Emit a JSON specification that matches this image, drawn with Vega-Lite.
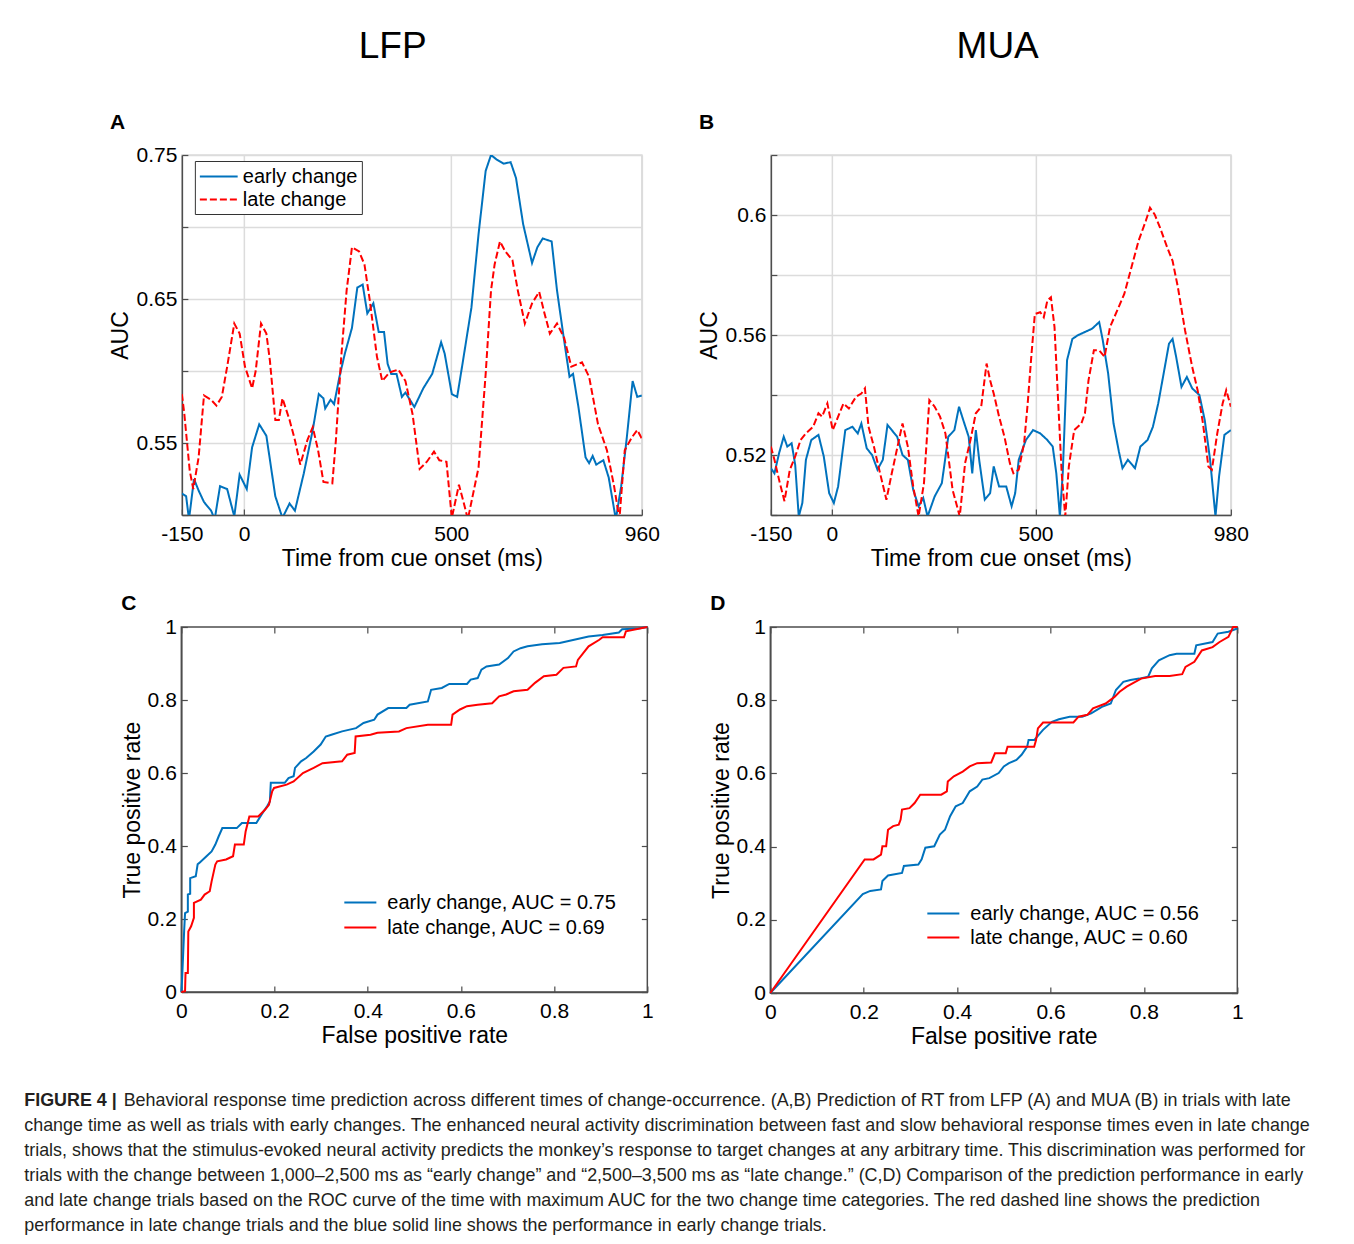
{
 "$schema": "https://vega.github.io/schema/vega-lite/v6.json",
 "background": "white",
 "padding": {"left": 24, "top": 28, "right": 8, "bottom": 4},
 "config": {
  "font": "Liberation Sans",
  "view": {"stroke": null},
  "axis": {"labelFont": "Liberation Sans", "titleFont": "Liberation Sans", "labelFontSize": 21, "titleFontSize": 23, "titleFontWeight": "normal", "labelColor": "#000", "titleColor": "#000", "domainColor": "#4d4d4d", "domainWidth": 1.5, "tickColor": "#4d4d4d", "tickWidth": 1.2, "tickSize": -6, "gridColor": "#dcdcdc", "gridWidth": 1.5, "labelPadding": 14, "titlePadding": 3, "labelFlush": false, "labelOverlap": false},
  "legend": {"labelFont": "Liberation Sans", "labelFontSize": 20, "labelColor": "#000", "symbolStrokeWidth": 2, "labelLimit": 500},
  "title": {"font": "Liberation Sans", "color": "#000"}
 },
 "datasets": {
  "lfp": [
   {"t":-150,"auc":0.515,"s":"early change"},{"t":-139.7,"auc":0.513,"s":"early change"},{"t":-132.8,"auc":0.497,"s":"early change"},{"t":-120.7,"auc":0.525,"s":"early change"},{"t":-109.6,"auc":0.517,"s":"early change"},{"t":-96.6,"auc":0.509,"s":"early change"},{"t":-79.4,"auc":0.503,"s":"early change"},{"t":-70.8,"auc":0.497,"s":"early change"},{"t":-57.9,"auc":0.52,"s":"early change"},{"t":-40.7,"auc":0.518,"s":"early change"},{"t":-23.5,"auc":0.499,"s":"early change"},{"t":-10.6,"auc":0.528,"s":"early change"},{"t":6.6,"auc":0.518,"s":"early change"},{"t":19.5,"auc":0.547,"s":"early change"},{"t":36.7,"auc":0.563,"s":"early change"},{"t":53.9,"auc":0.555,"s":"early change"},{"t":75.5,"auc":0.513,"s":"early change"},{"t":92.7,"auc":0.498,"s":"early change"},{"t":109.9,"auc":0.508,"s":"early change"},{"t":122.8,"auc":0.503,"s":"early change"},{"t":144.3,"auc":0.529,"s":"early change"},{"t":165.8,"auc":0.559,"s":"early change"},{"t":180.4,"auc":0.584,"s":"early change"},{"t":191.6,"auc":0.581,"s":"early change"},{"t":195.9,"auc":0.574,"s":"early change"},{"t":208.8,"auc":0.58,"s":"early change"},{"t":217.4,"auc":0.577,"s":"early change"},{"t":230.3,"auc":0.596,"s":"early change"},{"t":243.2,"auc":0.612,"s":"early change"},{"t":260.5,"auc":0.63,"s":"early change"},{"t":273.4,"auc":0.658,"s":"early change"},{"t":286.3,"auc":0.66,"s":"early change"},{"t":297.5,"auc":0.64,"s":"early change"},{"t":312.1,"auc":0.647,"s":"early change"},{"t":325,"auc":0.627,"s":"early change"},{"t":337.9,"auc":0.627,"s":"early change"},{"t":346.5,"auc":0.605,"s":"early change"},{"t":355.1,"auc":0.598,"s":"early change"},{"t":368,"auc":0.598,"s":"early change"},{"t":380.9,"auc":0.582,"s":"early change"},{"t":389.5,"auc":0.585,"s":"early change"},{"t":411,"auc":0.575,"s":"early change"},{"t":432.6,"auc":0.588,"s":"early change"},{"t":454.1,"auc":0.598,"s":"early change"},{"t":475.6,"auc":0.62,"s":"early change"},{"t":484.2,"auc":0.612,"s":"early change"},{"t":501.4,"auc":0.584,"s":"early change"},{"t":514.3,"auc":0.582,"s":"early change"},{"t":527.2,"auc":0.605,"s":"early change"},{"t":548.7,"auc":0.644,"s":"early change"},{"t":565.9,"auc":0.695,"s":"early change"},{"t":583.1,"auc":0.739,"s":"early change"},{"t":596,"auc":0.75,"s":"early change"},{"t":609,"auc":0.747,"s":"early change"},{"t":626.2,"auc":0.744,"s":"early change"},{"t":643.4,"auc":0.745,"s":"early change"},{"t":656.3,"auc":0.734,"s":"early change"},{"t":673.5,"auc":0.702,"s":"early change"},{"t":695,"auc":0.675,"s":"early change"},{"t":707.9,"auc":0.686,"s":"early change"},{"t":720.8,"auc":0.692,"s":"early change"},{"t":742.3,"auc":0.69,"s":"early change"},{"t":755.2,"auc":0.656,"s":"early change"},{"t":772.5,"auc":0.621,"s":"early change"},{"t":785.4,"auc":0.596,"s":"early change"},{"t":794,"auc":0.598,"s":"early change"},{"t":806.9,"auc":0.575,"s":"early change"},{"t":824.1,"auc":0.54,"s":"early change"},{"t":832.7,"auc":0.536,"s":"early change"},{"t":841.3,"auc":0.541,"s":"early change"},{"t":849.9,"auc":0.535,"s":"early change"},{"t":867.1,"auc":0.538,"s":"early change"},{"t":880,"auc":0.526,"s":"early change"},{"t":897.2,"auc":0.497,"s":"early change"},{"t":910.1,"auc":0.52,"s":"early change"},{"t":923,"auc":0.552,"s":"early change"},{"t":937.7,"auc":0.593,"s":"early change"},{"t":948.9,"auc":0.582,"s":"early change"},{"t":960,"auc":0.583,"s":"early change"},
   {"t":-150,"auc":0.584,"s":"late change"},{"t":-144,"auc":0.57,"s":"late change"},{"t":-131.1,"auc":0.531,"s":"late change"},{"t":-122.5,"auc":0.518,"s":"late change"},{"t":-109.6,"auc":0.54,"s":"late change"},{"t":-96.6,"auc":0.583,"s":"late change"},{"t":-79.4,"auc":0.58,"s":"late change"},{"t":-66.5,"auc":0.576,"s":"late change"},{"t":-53.6,"auc":0.582,"s":"late change"},{"t":-40.7,"auc":0.603,"s":"late change"},{"t":-23.5,"auc":0.633,"s":"late change"},{"t":-10.6,"auc":0.626,"s":"late change"},{"t":2.3,"auc":0.603,"s":"late change"},{"t":19.5,"auc":0.588,"s":"late change"},{"t":28.1,"auc":0.6,"s":"late change"},{"t":41,"auc":0.633,"s":"late change"},{"t":53.9,"auc":0.626,"s":"late change"},{"t":62.5,"auc":0.607,"s":"late change"},{"t":75.5,"auc":0.566,"s":"late change"},{"t":84.1,"auc":0.566,"s":"late change"},{"t":92.7,"auc":0.581,"s":"late change"},{"t":109.9,"auc":0.566,"s":"late change"},{"t":122.8,"auc":0.552,"s":"late change"},{"t":135.7,"auc":0.535,"s":"late change"},{"t":152.9,"auc":0.552,"s":"late change"},{"t":165.8,"auc":0.561,"s":"late change"},{"t":178.7,"auc":0.545,"s":"late change"},{"t":191.6,"auc":0.523,"s":"late change"},{"t":213.1,"auc":0.522,"s":"late change"},{"t":221.7,"auc":0.552,"s":"late change"},{"t":234.6,"auc":0.61,"s":"late change"},{"t":247.6,"auc":0.656,"s":"late change"},{"t":260.5,"auc":0.686,"s":"late change"},{"t":277.7,"auc":0.683,"s":"late change"},{"t":290.6,"auc":0.674,"s":"late change"},{"t":303.5,"auc":0.649,"s":"late change"},{"t":320.7,"auc":0.61,"s":"late change"},{"t":333.6,"auc":0.593,"s":"late change"},{"t":350.8,"auc":0.599,"s":"late change"},{"t":372.3,"auc":0.601,"s":"late change"},{"t":389.5,"auc":0.593,"s":"late change"},{"t":406.7,"auc":0.57,"s":"late change"},{"t":423.9,"auc":0.532,"s":"late change"},{"t":441.2,"auc":0.537,"s":"late change"},{"t":458.4,"auc":0.544,"s":"late change"},{"t":471.3,"auc":0.538,"s":"late change"},{"t":488.5,"auc":0.537,"s":"late change"},{"t":501.4,"auc":0.498,"s":"late change"},{"t":518.6,"auc":0.521,"s":"late change"},{"t":531.5,"auc":0.507,"s":"late change"},{"t":540.1,"auc":0.497,"s":"late change"},{"t":553,"auc":0.515,"s":"late change"},{"t":565.9,"auc":0.533,"s":"late change"},{"t":583.1,"auc":0.598,"s":"late change"},{"t":596,"auc":0.656,"s":"late change"},{"t":604.7,"auc":0.674,"s":"late change"},{"t":617.6,"auc":0.69,"s":"late change"},{"t":630.5,"auc":0.683,"s":"late change"},{"t":647.7,"auc":0.677,"s":"late change"},{"t":660.6,"auc":0.656,"s":"late change"},{"t":677.6,"auc":0.633,"s":"late change"},{"t":695,"auc":0.647,"s":"late change"},{"t":712.2,"auc":0.655,"s":"late change"},{"t":725.1,"auc":0.64,"s":"late change"},{"t":738,"auc":0.626,"s":"late change"},{"t":755.2,"auc":0.633,"s":"late change"},{"t":772.5,"auc":0.623,"s":"late change"},{"t":789.7,"auc":0.603,"s":"late change"},{"t":815.5,"auc":0.606,"s":"late change"},{"t":832.7,"auc":0.596,"s":"late change"},{"t":854.2,"auc":0.563,"s":"late change"},{"t":875.7,"auc":0.545,"s":"late change"},{"t":893,"auc":0.52,"s":"late change"},{"t":905.8,"auc":0.497,"s":"late change"},{"t":918.7,"auc":0.545,"s":"late change"},{"t":936,"auc":0.554,"s":"late change"},{"t":948.9,"auc":0.559,"s":"late change"},{"t":960,"auc":0.553,"s":"late change"}
  ],
  "mua": [
   {"t":-150,"auc":0.5156,"s":"early change"},{"t":-141.2,"auc":0.5139,"s":"early change"},{"t":-129.8,"auc":0.5206,"s":"early change"},{"t":-118.4,"auc":0.5261,"s":"early change"},{"t":-109.6,"auc":0.5228,"s":"early change"},{"t":-99,"auc":0.5239,"s":"early change"},{"t":-90.2,"auc":0.5167,"s":"early change"},{"t":-81.5,"auc":0.4995,"s":"early change"},{"t":-72.7,"auc":0.504,"s":"early change"},{"t":-63.9,"auc":0.5184,"s":"early change"},{"t":-50.7,"auc":0.525,"s":"early change"},{"t":-33.1,"auc":0.5267,"s":"early change"},{"t":-20,"auc":0.5195,"s":"early change"},{"t":-6.8,"auc":0.5073,"s":"early change"},{"t":4.7,"auc":0.504,"s":"early change"},{"t":15.2,"auc":0.5095,"s":"early change"},{"t":32.8,"auc":0.5283,"s":"early change"},{"t":50.3,"auc":0.5294,"s":"early change"},{"t":63.5,"auc":0.5272,"s":"early change"},{"t":72.3,"auc":0.5305,"s":"early change"},{"t":85.5,"auc":0.5222,"s":"early change"},{"t":98.7,"auc":0.52,"s":"early change"},{"t":111.9,"auc":0.5151,"s":"early change"},{"t":125,"auc":0.5184,"s":"early change"},{"t":136.5,"auc":0.53,"s":"early change"},{"t":147,"auc":0.5283,"s":"early change"},{"t":160.2,"auc":0.5261,"s":"early change"},{"t":173.4,"auc":0.52,"s":"early change"},{"t":186.5,"auc":0.5184,"s":"early change"},{"t":199.7,"auc":0.5084,"s":"early change"},{"t":212.9,"auc":0.5029,"s":"early change"},{"t":224.3,"auc":0.5057,"s":"early change"},{"t":234.9,"auc":0.4995,"s":"early change"},{"t":252.4,"auc":0.5062,"s":"early change"},{"t":270,"auc":0.5106,"s":"early change"},{"t":285.8,"auc":0.5261,"s":"early change"},{"t":300.8,"auc":0.5283,"s":"early change"},{"t":312.2,"auc":0.5361,"s":"early change"},{"t":322.7,"auc":0.5316,"s":"early change"},{"t":335.9,"auc":0.5261,"s":"early change"},{"t":344.7,"auc":0.5139,"s":"early change"},{"t":353.5,"auc":0.5283,"s":"early change"},{"t":362.3,"auc":0.5178,"s":"early change"},{"t":375.5,"auc":0.5051,"s":"early change"},{"t":388.6,"auc":0.5073,"s":"early change"},{"t":397.4,"auc":0.5162,"s":"early change"},{"t":410.6,"auc":0.5095,"s":"early change"},{"t":428.2,"auc":0.5095,"s":"early change"},{"t":441.4,"auc":0.5029,"s":"early change"},{"t":450.2,"auc":0.5073,"s":"early change"},{"t":458.9,"auc":0.5184,"s":"early change"},{"t":476.5,"auc":0.525,"s":"early change"},{"t":494.1,"auc":0.5283,"s":"early change"},{"t":511.7,"auc":0.5272,"s":"early change"},{"t":529.2,"auc":0.525,"s":"early change"},{"t":542.4,"auc":0.5228,"s":"early change"},{"t":551.2,"auc":0.5139,"s":"early change"},{"t":560,"auc":0.4995,"s":"early change"},{"t":567,"auc":0.5139,"s":"early change"},{"t":577.6,"auc":0.5516,"s":"early change"},{"t":590.7,"auc":0.5587,"s":"early change"},{"t":603.9,"auc":0.5599,"s":"early change"},{"t":621.5,"auc":0.561,"s":"early change"},{"t":639.1,"auc":0.5621,"s":"early change"},{"t":656.6,"auc":0.5643,"s":"early change"},{"t":665.4,"auc":0.5582,"s":"early change"},{"t":678.6,"auc":0.5471,"s":"early change"},{"t":691.8,"auc":0.5305,"s":"early change"},{"t":705,"auc":0.5211,"s":"early change"},{"t":713.8,"auc":0.5156,"s":"early change"},{"t":727,"auc":0.5184,"s":"early change"},{"t":744.5,"auc":0.5156,"s":"early change"},{"t":757.7,"auc":0.5228,"s":"early change"},{"t":775.3,"auc":0.525,"s":"early change"},{"t":788.5,"auc":0.5294,"s":"early change"},{"t":801.6,"auc":0.5372,"s":"early change"},{"t":814.8,"auc":0.5471,"s":"early change"},{"t":828,"auc":0.5571,"s":"early change"},{"t":836.8,"auc":0.5587,"s":"early change"},{"t":845.6,"auc":0.5527,"s":"early change"},{"t":858.7,"auc":0.5427,"s":"early change"},{"t":871.9,"auc":0.546,"s":"early change"},{"t":885.1,"auc":0.5422,"s":"early change"},{"t":902.7,"auc":0.54,"s":"early change"},{"t":915.9,"auc":0.5316,"s":"early change"},{"t":929,"auc":0.5184,"s":"early change"},{"t":942.2,"auc":0.4995,"s":"early change"},{"t":951,"auc":0.5128,"s":"early change"},{"t":964.2,"auc":0.5267,"s":"early change"},{"t":980,"auc":0.5283,"s":"early change"},
   {"t":-150,"auc":0.5228,"s":"late change"},{"t":-141.2,"auc":0.5184,"s":"late change"},{"t":-129.8,"auc":0.5117,"s":"late change"},{"t":-116.6,"auc":0.5046,"s":"late change"},{"t":-103.4,"auc":0.5151,"s":"late change"},{"t":-90.2,"auc":0.5195,"s":"late change"},{"t":-77.1,"auc":0.525,"s":"late change"},{"t":-63.9,"auc":0.5272,"s":"late change"},{"t":-46.3,"auc":0.5294,"s":"late change"},{"t":-33.1,"auc":0.5339,"s":"late change"},{"t":-24.3,"auc":0.5328,"s":"late change"},{"t":-11.2,"auc":0.5372,"s":"late change"},{"t":2,"auc":0.5283,"s":"late change"},{"t":15.2,"auc":0.5328,"s":"late change"},{"t":28.4,"auc":0.5372,"s":"late change"},{"t":41.6,"auc":0.5355,"s":"late change"},{"t":59.1,"auc":0.5394,"s":"late change"},{"t":72.3,"auc":0.5405,"s":"late change"},{"t":81.1,"auc":0.5422,"s":"late change"},{"t":89.9,"auc":0.5294,"s":"late change"},{"t":103.1,"auc":0.5228,"s":"late change"},{"t":116.2,"auc":0.5151,"s":"late change"},{"t":133.8,"auc":0.5051,"s":"late change"},{"t":147,"auc":0.5139,"s":"late change"},{"t":160.2,"auc":0.5222,"s":"late change"},{"t":173.4,"auc":0.5305,"s":"late change"},{"t":186.5,"auc":0.5228,"s":"late change"},{"t":199.7,"auc":0.5095,"s":"late change"},{"t":212.9,"auc":0.4995,"s":"late change"},{"t":226.1,"auc":0.5106,"s":"late change"},{"t":239.3,"auc":0.5383,"s":"late change"},{"t":252.4,"auc":0.5361,"s":"late change"},{"t":265.6,"auc":0.5328,"s":"late change"},{"t":278.8,"auc":0.5272,"s":"late change"},{"t":296.4,"auc":0.5084,"s":"late change"},{"t":314,"auc":0.4995,"s":"late change"},{"t":327.1,"auc":0.5173,"s":"late change"},{"t":340.3,"auc":0.525,"s":"late change"},{"t":353.5,"auc":0.5339,"s":"late change"},{"t":366.7,"auc":0.5361,"s":"late change"},{"t":379.9,"auc":0.5505,"s":"late change"},{"t":388.6,"auc":0.5449,"s":"late change"},{"t":397.4,"auc":0.5405,"s":"late change"},{"t":410.6,"auc":0.5328,"s":"late change"},{"t":423.8,"auc":0.5261,"s":"late change"},{"t":437,"auc":0.5173,"s":"late change"},{"t":445.8,"auc":0.5139,"s":"late change"},{"t":458.9,"auc":0.5151,"s":"late change"},{"t":472.1,"auc":0.5239,"s":"late change"},{"t":480.9,"auc":0.5372,"s":"late change"},{"t":489.7,"auc":0.5527,"s":"late change"},{"t":498.5,"auc":0.567,"s":"late change"},{"t":511.7,"auc":0.5676,"s":"late change"},{"t":520.4,"auc":0.5659,"s":"late change"},{"t":529.2,"auc":0.5715,"s":"late change"},{"t":538,"auc":0.5726,"s":"late change"},{"t":546.8,"auc":0.5626,"s":"late change"},{"t":555.6,"auc":0.5383,"s":"late change"},{"t":564.4,"auc":0.5139,"s":"late change"},{"t":573.2,"auc":0.4995,"s":"late change"},{"t":582,"auc":0.5162,"s":"late change"},{"t":595.1,"auc":0.5283,"s":"late change"},{"t":612.7,"auc":0.5305,"s":"late change"},{"t":621.5,"auc":0.5339,"s":"late change"},{"t":630.3,"auc":0.5449,"s":"late change"},{"t":643.5,"auc":0.5549,"s":"late change"},{"t":656.6,"auc":0.5549,"s":"late change"},{"t":669.8,"auc":0.5527,"s":"late change"},{"t":683,"auc":0.5626,"s":"late change"},{"t":700.6,"auc":0.5681,"s":"late change"},{"t":718.2,"auc":0.5737,"s":"late change"},{"t":735.7,"auc":0.5825,"s":"late change"},{"t":753.3,"auc":0.5914,"s":"late change"},{"t":770.9,"auc":0.598,"s":"late change"},{"t":781.4,"auc":0.6024,"s":"late change"},{"t":792.8,"auc":0.6002,"s":"late change"},{"t":806,"auc":0.5958,"s":"late change"},{"t":823.6,"auc":0.5892,"s":"late change"},{"t":836.8,"auc":0.5847,"s":"late change"},{"t":849.9,"auc":0.5759,"s":"late change"},{"t":867.5,"auc":0.5615,"s":"late change"},{"t":885.1,"auc":0.5493,"s":"late change"},{"t":898.3,"auc":0.5416,"s":"late change"},{"t":911.5,"auc":0.5305,"s":"late change"},{"t":924.7,"auc":0.5162,"s":"late change"},{"t":933.4,"auc":0.5151,"s":"late change"},{"t":946.6,"auc":0.5272,"s":"late change"},{"t":959.8,"auc":0.5372,"s":"late change"},{"t":968.6,"auc":0.5416,"s":"late change"},{"t":980,"auc":0.5361,"s":"late change"}
  ],
  "rocLfp": [
   {"i":0,"fpr":0,"tpr":0,"s":"early change, AUC = 0.75"},{"i":1,"fpr":0.0015,"tpr":0.03,"s":"early change, AUC = 0.75"},{"i":2,"fpr":0.006,"tpr":0.166,"s":"early change, AUC = 0.75"},{"i":3,"fpr":0.008,"tpr":0.216,"s":"early change, AUC = 0.75"},{"i":4,"fpr":0.014,"tpr":0.22,"s":"early change, AUC = 0.75"},{"i":5,"fpr":0.014,"tpr":0.267,"s":"early change, AUC = 0.75"},{"i":6,"fpr":0.019,"tpr":0.269,"s":"early change, AUC = 0.75"},{"i":7,"fpr":0.019,"tpr":0.312,"s":"early change, AUC = 0.75"},{"i":8,"fpr":0.031,"tpr":0.317,"s":"early change, AUC = 0.75"},{"i":9,"fpr":0.035,"tpr":0.35,"s":"early change, AUC = 0.75"},{"i":10,"fpr":0.038,"tpr":0.353,"s":"early change, AUC = 0.75"},{"i":11,"fpr":0.054,"tpr":0.372,"s":"early change, AUC = 0.75"},{"i":12,"fpr":0.065,"tpr":0.385,"s":"early change, AUC = 0.75"},{"i":13,"fpr":0.073,"tpr":0.404,"s":"early change, AUC = 0.75"},{"i":14,"fpr":0.08,"tpr":0.426,"s":"early change, AUC = 0.75"},{"i":15,"fpr":0.088,"tpr":0.449,"s":"early change, AUC = 0.75"},{"i":16,"fpr":0.119,"tpr":0.449,"s":"early change, AUC = 0.75"},{"i":17,"fpr":0.13,"tpr":0.463,"s":"early change, AUC = 0.75"},{"i":18,"fpr":0.161,"tpr":0.463,"s":"early change, AUC = 0.75"},{"i":19,"fpr":0.172,"tpr":0.486,"s":"early change, AUC = 0.75"},{"i":20,"fpr":0.184,"tpr":0.509,"s":"early change, AUC = 0.75"},{"i":21,"fpr":0.19,"tpr":0.522,"s":"early change, AUC = 0.75"},{"i":22,"fpr":0.192,"tpr":0.573,"s":"early change, AUC = 0.75"},{"i":23,"fpr":0.222,"tpr":0.573,"s":"early change, AUC = 0.75"},{"i":24,"fpr":0.23,"tpr":0.586,"s":"early change, AUC = 0.75"},{"i":25,"fpr":0.241,"tpr":0.591,"s":"early change, AUC = 0.75"},{"i":26,"fpr":0.244,"tpr":0.614,"s":"early change, AUC = 0.75"},{"i":27,"fpr":0.257,"tpr":0.632,"s":"early change, AUC = 0.75"},{"i":28,"fpr":0.268,"tpr":0.641,"s":"early change, AUC = 0.75"},{"i":29,"fpr":0.284,"tpr":0.659,"s":"early change, AUC = 0.75"},{"i":30,"fpr":0.299,"tpr":0.678,"s":"early change, AUC = 0.75"},{"i":31,"fpr":0.31,"tpr":0.7,"s":"early change, AUC = 0.75"},{"i":32,"fpr":0.322,"tpr":0.705,"s":"early change, AUC = 0.75"},{"i":33,"fpr":0.345,"tpr":0.714,"s":"early change, AUC = 0.75"},{"i":34,"fpr":0.375,"tpr":0.723,"s":"early change, AUC = 0.75"},{"i":35,"fpr":0.391,"tpr":0.737,"s":"early change, AUC = 0.75"},{"i":36,"fpr":0.414,"tpr":0.746,"s":"early change, AUC = 0.75"},{"i":37,"fpr":0.421,"tpr":0.76,"s":"early change, AUC = 0.75"},{"i":38,"fpr":0.444,"tpr":0.778,"s":"early change, AUC = 0.75"},{"i":39,"fpr":0.483,"tpr":0.778,"s":"early change, AUC = 0.75"},{"i":40,"fpr":0.49,"tpr":0.787,"s":"early change, AUC = 0.75"},{"i":41,"fpr":0.529,"tpr":0.796,"s":"early change, AUC = 0.75"},{"i":42,"fpr":0.536,"tpr":0.828,"s":"early change, AUC = 0.75"},{"i":43,"fpr":0.559,"tpr":0.833,"s":"early change, AUC = 0.75"},{"i":44,"fpr":0.575,"tpr":0.844,"s":"early change, AUC = 0.75"},{"i":45,"fpr":0.613,"tpr":0.844,"s":"early change, AUC = 0.75"},{"i":46,"fpr":0.621,"tpr":0.856,"s":"early change, AUC = 0.75"},{"i":47,"fpr":0.636,"tpr":0.86,"s":"early change, AUC = 0.75"},{"i":48,"fpr":0.644,"tpr":0.883,"s":"early change, AUC = 0.75"},{"i":49,"fpr":0.655,"tpr":0.892,"s":"early change, AUC = 0.75"},{"i":50,"fpr":0.682,"tpr":0.897,"s":"early change, AUC = 0.75"},{"i":51,"fpr":0.701,"tpr":0.915,"s":"early change, AUC = 0.75"},{"i":52,"fpr":0.713,"tpr":0.933,"s":"early change, AUC = 0.75"},{"i":53,"fpr":0.728,"tpr":0.942,"s":"early change, AUC = 0.75"},{"i":54,"fpr":0.743,"tpr":0.947,"s":"early change, AUC = 0.75"},{"i":55,"fpr":0.774,"tpr":0.953,"s":"early change, AUC = 0.75"},{"i":56,"fpr":0.812,"tpr":0.956,"s":"early change, AUC = 0.75"},{"i":57,"fpr":0.843,"tpr":0.965,"s":"early change, AUC = 0.75"},{"i":58,"fpr":0.874,"tpr":0.974,"s":"early change, AUC = 0.75"},{"i":59,"fpr":0.904,"tpr":0.978,"s":"early change, AUC = 0.75"},{"i":60,"fpr":0.939,"tpr":0.985,"s":"early change, AUC = 0.75"},{"i":61,"fpr":0.946,"tpr":0.994,"s":"early change, AUC = 0.75"},{"i":62,"fpr":0.981,"tpr":0.996,"s":"early change, AUC = 0.75"},{"i":63,"fpr":1,"tpr":1,"s":"early change, AUC = 0.75"},
   {"i":0,"fpr":0,"tpr":0,"s":"late change, AUC = 0.69"},{"i":1,"fpr":0.008,"tpr":0.002,"s":"late change, AUC = 0.69"},{"i":2,"fpr":0.009,"tpr":0.052,"s":"late change, AUC = 0.69"},{"i":3,"fpr":0.014,"tpr":0.052,"s":"late change, AUC = 0.69"},{"i":4,"fpr":0.015,"tpr":0.166,"s":"late change, AUC = 0.69"},{"i":5,"fpr":0.021,"tpr":0.18,"s":"late change, AUC = 0.69"},{"i":6,"fpr":0.027,"tpr":0.203,"s":"late change, AUC = 0.69"},{"i":7,"fpr":0.027,"tpr":0.244,"s":"late change, AUC = 0.69"},{"i":8,"fpr":0.042,"tpr":0.253,"s":"late change, AUC = 0.69"},{"i":9,"fpr":0.05,"tpr":0.267,"s":"late change, AUC = 0.69"},{"i":10,"fpr":0.061,"tpr":0.276,"s":"late change, AUC = 0.69"},{"i":11,"fpr":0.065,"tpr":0.303,"s":"late change, AUC = 0.69"},{"i":12,"fpr":0.073,"tpr":0.349,"s":"late change, AUC = 0.69"},{"i":13,"fpr":0.077,"tpr":0.358,"s":"late change, AUC = 0.69"},{"i":14,"fpr":0.096,"tpr":0.363,"s":"late change, AUC = 0.69"},{"i":15,"fpr":0.111,"tpr":0.372,"s":"late change, AUC = 0.69"},{"i":16,"fpr":0.115,"tpr":0.404,"s":"late change, AUC = 0.69"},{"i":17,"fpr":0.134,"tpr":0.404,"s":"late change, AUC = 0.69"},{"i":18,"fpr":0.138,"tpr":0.44,"s":"late change, AUC = 0.69"},{"i":19,"fpr":0.146,"tpr":0.481,"s":"late change, AUC = 0.69"},{"i":20,"fpr":0.165,"tpr":0.481,"s":"late change, AUC = 0.69"},{"i":21,"fpr":0.18,"tpr":0.5,"s":"late change, AUC = 0.69"},{"i":22,"fpr":0.188,"tpr":0.513,"s":"late change, AUC = 0.69"},{"i":23,"fpr":0.195,"tpr":0.55,"s":"late change, AUC = 0.69"},{"i":24,"fpr":0.199,"tpr":0.559,"s":"late change, AUC = 0.69"},{"i":25,"fpr":0.226,"tpr":0.568,"s":"late change, AUC = 0.69"},{"i":26,"fpr":0.241,"tpr":0.577,"s":"late change, AUC = 0.69"},{"i":27,"fpr":0.261,"tpr":0.6,"s":"late change, AUC = 0.69"},{"i":28,"fpr":0.284,"tpr":0.614,"s":"late change, AUC = 0.69"},{"i":29,"fpr":0.303,"tpr":0.627,"s":"late change, AUC = 0.69"},{"i":30,"fpr":0.345,"tpr":0.632,"s":"late change, AUC = 0.69"},{"i":31,"fpr":0.356,"tpr":0.65,"s":"late change, AUC = 0.69"},{"i":32,"fpr":0.372,"tpr":0.655,"s":"late change, AUC = 0.69"},{"i":33,"fpr":0.374,"tpr":0.7,"s":"late change, AUC = 0.69"},{"i":34,"fpr":0.406,"tpr":0.705,"s":"late change, AUC = 0.69"},{"i":35,"fpr":0.421,"tpr":0.71,"s":"late change, AUC = 0.69"},{"i":36,"fpr":0.467,"tpr":0.714,"s":"late change, AUC = 0.69"},{"i":37,"fpr":0.483,"tpr":0.723,"s":"late change, AUC = 0.69"},{"i":38,"fpr":0.529,"tpr":0.732,"s":"late change, AUC = 0.69"},{"i":39,"fpr":0.579,"tpr":0.732,"s":"late change, AUC = 0.69"},{"i":40,"fpr":0.582,"tpr":0.76,"s":"late change, AUC = 0.69"},{"i":41,"fpr":0.598,"tpr":0.774,"s":"late change, AUC = 0.69"},{"i":42,"fpr":0.613,"tpr":0.783,"s":"late change, AUC = 0.69"},{"i":43,"fpr":0.636,"tpr":0.787,"s":"late change, AUC = 0.69"},{"i":44,"fpr":0.667,"tpr":0.791,"s":"late change, AUC = 0.69"},{"i":45,"fpr":0.682,"tpr":0.81,"s":"late change, AUC = 0.69"},{"i":46,"fpr":0.697,"tpr":0.815,"s":"late change, AUC = 0.69"},{"i":47,"fpr":0.713,"tpr":0.824,"s":"late change, AUC = 0.69"},{"i":48,"fpr":0.743,"tpr":0.828,"s":"late change, AUC = 0.69"},{"i":49,"fpr":0.759,"tpr":0.847,"s":"late change, AUC = 0.69"},{"i":50,"fpr":0.778,"tpr":0.865,"s":"late change, AUC = 0.69"},{"i":51,"fpr":0.805,"tpr":0.869,"s":"late change, AUC = 0.69"},{"i":52,"fpr":0.82,"tpr":0.888,"s":"late change, AUC = 0.69"},{"i":53,"fpr":0.847,"tpr":0.892,"s":"late change, AUC = 0.69"},{"i":54,"fpr":0.851,"tpr":0.91,"s":"late change, AUC = 0.69"},{"i":55,"fpr":0.862,"tpr":0.928,"s":"late change, AUC = 0.69"},{"i":56,"fpr":0.874,"tpr":0.947,"s":"late change, AUC = 0.69"},{"i":57,"fpr":0.897,"tpr":0.965,"s":"late change, AUC = 0.69"},{"i":58,"fpr":0.904,"tpr":0.972,"s":"late change, AUC = 0.69"},{"i":59,"fpr":0.95,"tpr":0.972,"s":"late change, AUC = 0.69"},{"i":60,"fpr":0.954,"tpr":0.988,"s":"late change, AUC = 0.69"},{"i":61,"fpr":0.981,"tpr":0.995,"s":"late change, AUC = 0.69"},{"i":62,"fpr":1,"tpr":1,"s":"late change, AUC = 0.69"}
  ],
  "rocMua": [
   {"i":0,"fpr":0,"tpr":0,"s":"early change, AUC = 0.56"},{"i":1,"fpr":0.198,"tpr":0.27,"s":"early change, AUC = 0.56"},{"i":2,"fpr":0.214,"tpr":0.279,"s":"early change, AUC = 0.56"},{"i":3,"fpr":0.237,"tpr":0.283,"s":"early change, AUC = 0.56"},{"i":4,"fpr":0.24,"tpr":0.306,"s":"early change, AUC = 0.56"},{"i":5,"fpr":0.252,"tpr":0.321,"s":"early change, AUC = 0.56"},{"i":6,"fpr":0.282,"tpr":0.328,"s":"early change, AUC = 0.56"},{"i":7,"fpr":0.286,"tpr":0.347,"s":"early change, AUC = 0.56"},{"i":8,"fpr":0.317,"tpr":0.351,"s":"early change, AUC = 0.56"},{"i":9,"fpr":0.324,"tpr":0.365,"s":"early change, AUC = 0.56"},{"i":10,"fpr":0.332,"tpr":0.397,"s":"early change, AUC = 0.56"},{"i":11,"fpr":0.351,"tpr":0.401,"s":"early change, AUC = 0.56"},{"i":12,"fpr":0.363,"tpr":0.433,"s":"early change, AUC = 0.56"},{"i":13,"fpr":0.374,"tpr":0.446,"s":"early change, AUC = 0.56"},{"i":14,"fpr":0.385,"tpr":0.483,"s":"early change, AUC = 0.56"},{"i":15,"fpr":0.397,"tpr":0.51,"s":"early change, AUC = 0.56"},{"i":16,"fpr":0.412,"tpr":0.519,"s":"early change, AUC = 0.56"},{"i":17,"fpr":0.427,"tpr":0.551,"s":"early change, AUC = 0.56"},{"i":18,"fpr":0.443,"tpr":0.564,"s":"early change, AUC = 0.56"},{"i":19,"fpr":0.454,"tpr":0.583,"s":"early change, AUC = 0.56"},{"i":20,"fpr":0.469,"tpr":0.587,"s":"early change, AUC = 0.56"},{"i":21,"fpr":0.489,"tpr":0.601,"s":"early change, AUC = 0.56"},{"i":22,"fpr":0.5,"tpr":0.619,"s":"early change, AUC = 0.56"},{"i":23,"fpr":0.511,"tpr":0.628,"s":"early change, AUC = 0.56"},{"i":24,"fpr":0.527,"tpr":0.637,"s":"early change, AUC = 0.56"},{"i":25,"fpr":0.538,"tpr":0.651,"s":"early change, AUC = 0.56"},{"i":26,"fpr":0.55,"tpr":0.673,"s":"early change, AUC = 0.56"},{"i":27,"fpr":0.553,"tpr":0.691,"s":"early change, AUC = 0.56"},{"i":28,"fpr":0.565,"tpr":0.691,"s":"early change, AUC = 0.56"},{"i":29,"fpr":0.584,"tpr":0.719,"s":"early change, AUC = 0.56"},{"i":30,"fpr":0.603,"tpr":0.741,"s":"early change, AUC = 0.56"},{"i":31,"fpr":0.618,"tpr":0.748,"s":"early change, AUC = 0.56"},{"i":32,"fpr":0.641,"tpr":0.755,"s":"early change, AUC = 0.56"},{"i":33,"fpr":0.668,"tpr":0.755,"s":"early change, AUC = 0.56"},{"i":34,"fpr":0.687,"tpr":0.764,"s":"early change, AUC = 0.56"},{"i":35,"fpr":0.71,"tpr":0.782,"s":"early change, AUC = 0.56"},{"i":36,"fpr":0.729,"tpr":0.791,"s":"early change, AUC = 0.56"},{"i":37,"fpr":0.74,"tpr":0.828,"s":"early change, AUC = 0.56"},{"i":38,"fpr":0.756,"tpr":0.85,"s":"early change, AUC = 0.56"},{"i":39,"fpr":0.771,"tpr":0.855,"s":"early change, AUC = 0.56"},{"i":40,"fpr":0.79,"tpr":0.859,"s":"early change, AUC = 0.56"},{"i":41,"fpr":0.809,"tpr":0.864,"s":"early change, AUC = 0.56"},{"i":42,"fpr":0.817,"tpr":0.887,"s":"early change, AUC = 0.56"},{"i":43,"fpr":0.832,"tpr":0.909,"s":"early change, AUC = 0.56"},{"i":44,"fpr":0.855,"tpr":0.923,"s":"early change, AUC = 0.56"},{"i":45,"fpr":0.87,"tpr":0.927,"s":"early change, AUC = 0.56"},{"i":46,"fpr":0.908,"tpr":0.927,"s":"early change, AUC = 0.56"},{"i":47,"fpr":0.912,"tpr":0.95,"s":"early change, AUC = 0.56"},{"i":48,"fpr":0.947,"tpr":0.959,"s":"early change, AUC = 0.56"},{"i":49,"fpr":0.958,"tpr":0.982,"s":"early change, AUC = 0.56"},{"i":50,"fpr":0.981,"tpr":0.987,"s":"early change, AUC = 0.56"},{"i":51,"fpr":1,"tpr":0.996,"s":"early change, AUC = 0.56"},
   {"i":0,"fpr":0,"tpr":0,"s":"late change, AUC = 0.60"},{"i":1,"fpr":0.202,"tpr":0.365,"s":"late change, AUC = 0.60"},{"i":2,"fpr":0.221,"tpr":0.365,"s":"late change, AUC = 0.60"},{"i":3,"fpr":0.237,"tpr":0.378,"s":"late change, AUC = 0.60"},{"i":4,"fpr":0.24,"tpr":0.401,"s":"late change, AUC = 0.60"},{"i":5,"fpr":0.248,"tpr":0.401,"s":"late change, AUC = 0.60"},{"i":6,"fpr":0.252,"tpr":0.446,"s":"late change, AUC = 0.60"},{"i":7,"fpr":0.263,"tpr":0.456,"s":"late change, AUC = 0.60"},{"i":8,"fpr":0.275,"tpr":0.46,"s":"late change, AUC = 0.60"},{"i":9,"fpr":0.279,"tpr":0.474,"s":"late change, AUC = 0.60"},{"i":10,"fpr":0.282,"tpr":0.501,"s":"late change, AUC = 0.60"},{"i":11,"fpr":0.298,"tpr":0.505,"s":"late change, AUC = 0.60"},{"i":12,"fpr":0.309,"tpr":0.519,"s":"late change, AUC = 0.60"},{"i":13,"fpr":0.321,"tpr":0.542,"s":"late change, AUC = 0.60"},{"i":14,"fpr":0.366,"tpr":0.542,"s":"late change, AUC = 0.60"},{"i":15,"fpr":0.378,"tpr":0.551,"s":"late change, AUC = 0.60"},{"i":16,"fpr":0.38,"tpr":0.578,"s":"late change, AUC = 0.60"},{"i":17,"fpr":0.393,"tpr":0.592,"s":"late change, AUC = 0.60"},{"i":18,"fpr":0.412,"tpr":0.605,"s":"late change, AUC = 0.60"},{"i":19,"fpr":0.427,"tpr":0.619,"s":"late change, AUC = 0.60"},{"i":20,"fpr":0.443,"tpr":0.628,"s":"late change, AUC = 0.60"},{"i":21,"fpr":0.473,"tpr":0.63,"s":"late change, AUC = 0.60"},{"i":22,"fpr":0.481,"tpr":0.655,"s":"late change, AUC = 0.60"},{"i":23,"fpr":0.504,"tpr":0.655,"s":"late change, AUC = 0.60"},{"i":24,"fpr":0.508,"tpr":0.673,"s":"late change, AUC = 0.60"},{"i":25,"fpr":0.565,"tpr":0.673,"s":"late change, AUC = 0.60"},{"i":26,"fpr":0.569,"tpr":0.691,"s":"late change, AUC = 0.60"},{"i":27,"fpr":0.573,"tpr":0.723,"s":"late change, AUC = 0.60"},{"i":28,"fpr":0.584,"tpr":0.739,"s":"late change, AUC = 0.60"},{"i":29,"fpr":0.649,"tpr":0.739,"s":"late change, AUC = 0.60"},{"i":30,"fpr":0.66,"tpr":0.755,"s":"late change, AUC = 0.60"},{"i":31,"fpr":0.679,"tpr":0.76,"s":"late change, AUC = 0.60"},{"i":32,"fpr":0.691,"tpr":0.778,"s":"late change, AUC = 0.60"},{"i":33,"fpr":0.718,"tpr":0.791,"s":"late change, AUC = 0.60"},{"i":34,"fpr":0.737,"tpr":0.809,"s":"late change, AUC = 0.60"},{"i":35,"fpr":0.748,"tpr":0.823,"s":"late change, AUC = 0.60"},{"i":36,"fpr":0.763,"tpr":0.837,"s":"late change, AUC = 0.60"},{"i":37,"fpr":0.794,"tpr":0.859,"s":"late change, AUC = 0.60"},{"i":38,"fpr":0.824,"tpr":0.866,"s":"late change, AUC = 0.60"},{"i":39,"fpr":0.855,"tpr":0.866,"s":"late change, AUC = 0.60"},{"i":40,"fpr":0.882,"tpr":0.871,"s":"late change, AUC = 0.60"},{"i":41,"fpr":0.889,"tpr":0.891,"s":"late change, AUC = 0.60"},{"i":42,"fpr":0.908,"tpr":0.905,"s":"late change, AUC = 0.60"},{"i":43,"fpr":0.924,"tpr":0.936,"s":"late change, AUC = 0.60"},{"i":44,"fpr":0.947,"tpr":0.945,"s":"late change, AUC = 0.60"},{"i":45,"fpr":0.962,"tpr":0.959,"s":"late change, AUC = 0.60"},{"i":46,"fpr":0.981,"tpr":0.973,"s":"late change, AUC = 0.60"},{"i":47,"fpr":0.991,"tpr":1,"s":"late change, AUC = 0.60"},{"i":48,"fpr":1,"tpr":1,"s":"late change, AUC = 0.60"}
  ]
 },
 "title": {
  "text": "FIGURE 4 |",
  "subtitle": [
   "\u200b\u00a0\u00a0\u00a0\u00a0\u00a0\u00a0\u00a0\u00a0\u00a0\u00a0\u00a0\u00a0\u00a0\u00a0\u00a0\u00a0\u00a0\u00a0\u00a0\u00a0Behavioral response time prediction across different times of change-occurrence. (A,B) Prediction of RT from LFP (A) and MUA (B) in trials with late",
   "change time as well as trials with early changes. The enhanced neural activity discrimination between fast and slow behavioral response times even in late change",
   "trials, shows that the stimulus-evoked neural activity predicts the monkey’s response to target changes at any arbitrary time. This discrimination was performed for",
   "trials with the change between 1,000–2,500 ms as “early change” and “2,500–3,500 ms as “late change.” (C,D) Comparison of the prediction performance in early",
   "and late change trials based on the ROC curve of the time with maximum AUC for the two change time categories. The red dashed line shows the prediction",
   "performance in late change trials and the blue solid line shows the performance in early change trials."
  ],
  "orient": "bottom", "anchor": "start", "frame": "bounds", "baseline": "top",
  "font": "Liberation Sans", "fontSize": 17.9, "fontWeight": "bold", "color": "#231f20",
  "subtitleFont": "Liberation Sans", "subtitleFontSize": 17.9, "subtitleFontWeight": "normal", "subtitleColor": "#231f20", "subtitleLineHeight": 25, "subtitlePadding": -18,
  "offset": 43, "dx": -85
 },
 "resolve": {"scale": {"color": "independent", "strokeDash": "independent"}, "legend": {"color": "independent", "strokeDash": "independent"}},
 "center": true,
 "spacing": 21,
 "vconcat": [
  {
   "spacing": 37,
   "resolve": {"scale": {"color": "independent", "strokeDash": "independent"}, "legend": {"color": "independent", "strokeDash": "independent"}},
   "hconcat": [
    {
     "title": {"text": "LFP", "fontSize": 37, "fontWeight": "normal", "anchor": "middle", "frame": "bounds", "baseline": "alphabetic", "offset": 16, "dx": 8},
     "resolve": {"scale": {"color": "independent", "strokeDash": "independent"}, "legend": {"color": "independent", "strokeDash": "independent"}},
     "vconcat": [
      {
       "width": 460, "height": 360,
       "title": {"text": "A", "fontSize": 21, "fontWeight": "bold", "anchor": "start", "frame": "bounds", "baseline": "alphabetic", "offset": -6},
       "view": {"stroke": "#dcdcdc", "strokeWidth": 1.5},
       "data": {"name": "lfp"},
       "mark": {"type": "line", "strokeWidth": 2, "clip": true},
       "encoding": {
        "x": {"field": "t", "type": "quantitative", "scale": {"domain": [-150, 960], "nice": false, "zero": false}, "axis": {"title": "Time from cue onset (ms)", "values": [-150, 0, 500, 960], "grid": true, "labelExpr": "datum.value < 0 ? '-' + abs(datum.value) : '' + datum.value"}},
        "y": {"field": "auc", "type": "quantitative", "scale": {"domain": [0.5, 0.75], "nice": false, "zero": false}, "axis": {"title": "AUC", "values": [0.5, 0.55, 0.6, 0.65, 0.7, 0.75], "grid": true, "labelPadding": 11, "labelExpr": "indexof(['0.55','0.65','0.75'], format(datum.value, '.2f')) >= 0 ? format(datum.value, '.2f') : ''"}},
        "color": {"field": "s", "type": "nominal", "scale": {"domain": ["early change", "late change"], "range": ["#0072BD", "#FF0000"]}, "legend": {"orient": "none", "legendX": 13, "legendY": 6, "title": null, "strokeColor": "#333", "fillColor": "#fff", "padding": 4, "symbolType": "M-1,0H2.6", "symbolSize": 441, "labelOffset": 21, "rowPadding": 1}},
        "strokeDash": {"field": "s", "type": "nominal", "scale": {"domain": ["early change", "late change"], "range": [[1, 0], [7, 3]]}, "legend": {"orient": "none", "legendX": 13, "legendY": 6, "title": null, "strokeColor": "#333", "fillColor": "#fff", "padding": 4, "symbolType": "M-1,0H2.6", "symbolSize": 441, "labelOffset": 21, "rowPadding": 1}}
       }
      }
     ]
    },
    {
     "title": {"text": "MUA", "fontSize": 37, "fontWeight": "normal", "anchor": "middle", "frame": "bounds", "baseline": "alphabetic", "offset": 16, "dx": 24},
     "resolve": {"scale": {"color": "independent", "strokeDash": "independent"}, "legend": {"color": "independent", "strokeDash": "independent"}},
     "vconcat": [
      {
       "width": 460, "height": 360,
       "title": {"text": "B", "fontSize": 21, "fontWeight": "bold", "anchor": "start", "frame": "bounds", "baseline": "alphabetic", "offset": -6},
       "view": {"stroke": "#dcdcdc", "strokeWidth": 1.5},
       "data": {"name": "mua"},
       "mark": {"type": "line", "strokeWidth": 2, "clip": true},
       "encoding": {
        "x": {"field": "t", "type": "quantitative", "scale": {"domain": [-150, 980], "nice": false, "zero": false}, "axis": {"title": "Time from cue onset (ms)", "values": [-150, 0, 500, 980], "grid": true, "labelExpr": "datum.value < 0 ? '-' + abs(datum.value) : '' + datum.value"}},
        "y": {"field": "auc", "type": "quantitative", "scale": {"domain": [0.5, 0.62], "nice": false, "zero": false}, "axis": {"title": "AUC", "values": [0.5, 0.52, 0.54, 0.56, 0.58, 0.6, 0.62], "grid": true, "labelPadding": 11, "labelExpr": "indexof(['0.52','0.56','0.60'], format(datum.value, '.2f')) >= 0 ? format(datum.value, '~g') : ''"}},
        "color": {"field": "s", "type": "nominal", "scale": {"domain": ["early change", "late change"], "range": ["#0072BD", "#FF0000"]}, "legend": null},
        "strokeDash": {"field": "s", "type": "nominal", "scale": {"domain": ["early change", "late change"], "range": [[1, 0], [7, 3]]}, "legend": null}
       }
      }
     ]
    }
   ]
  },
  {
   "spacing": 55,
   "resolve": {"scale": {"color": "independent", "strokeDash": "independent"}, "legend": {"color": "independent", "strokeDash": "independent"}},
   "hconcat": [
    {
     "width": 466, "height": 365,
     "title": {"text": "C", "fontSize": 21, "fontWeight": "bold", "anchor": "start", "frame": "bounds", "baseline": "alphabetic", "offset": -15},
     "view": {"stroke": "#4d4d4d", "strokeWidth": 1.5},
     "data": {"name": "rocLfp"},
     "layer": [
      {
       "mark": {"type": "line", "strokeWidth": 2},
       "encoding": {
        "x": {"field": "fpr", "type": "quantitative", "scale": {"domain": [0, 1], "nice": false}, "axis": {"title": "False positive rate", "values": [0, 0.2, 0.4, 0.6, 0.8, 1], "format": "~g", "grid": false}},
        "y": {"field": "tpr", "type": "quantitative", "scale": {"domain": [0, 1], "nice": false}, "axis": {"title": "True positive rate", "values": [0, 0.2, 0.4, 0.6, 0.8, 1], "format": "~g", "grid": false, "labelPadding": 11}},
        "order": {"field": "i", "type": "quantitative"},
        "color": {"field": "s", "type": "nominal", "scale": {"domain": ["early change, AUC = 0.75", "late change, AUC = 0.69"], "range": ["#0072BD", "#FF0000"]}, "legend": {"orient": "none", "legendX": 162, "legendY": 264, "title": null, "symbolType": "M-1,0H2.05", "symbolSize": 441, "labelOffset": 21, "rowPadding": 3}}
       }
      },
      {
       "mark": {"type": "line", "opacity": 0},
       "encoding": {
        "x": {"field": "fpr", "type": "quantitative", "scale": {"domain": [0, 1], "nice": false}, "axis": {"orient": "top", "title": null, "labels": false, "domain": false, "values": [0, 0.2, 0.4, 0.6, 0.8, 1], "grid": false}},
        "y": {"field": "tpr", "type": "quantitative", "scale": {"domain": [0, 1], "nice": false}, "axis": {"orient": "right", "title": null, "labels": false, "domain": false, "values": [0, 0.2, 0.4, 0.6, 0.8, 1], "grid": false}},
        "order": {"field": "i", "type": "quantitative"},
        "detail": {"field": "s", "type": "nominal"}
       }
      }
     ],
     "resolve": {"axis": {"x": "independent", "y": "independent"}}
    },
    {
     "width": 467, "height": 366,
     "title": {"text": "D", "fontSize": 21, "fontWeight": "bold", "anchor": "start", "frame": "bounds", "baseline": "alphabetic", "offset": -15},
     "view": {"stroke": "#4d4d4d", "strokeWidth": 1.5},
     "data": {"name": "rocMua"},
     "layer": [
      {
       "mark": {"type": "line", "strokeWidth": 2},
       "encoding": {
        "x": {"field": "fpr", "type": "quantitative", "scale": {"domain": [0, 1], "nice": false}, "axis": {"title": "False positive rate", "values": [0, 0.2, 0.4, 0.6, 0.8, 1], "format": "~g", "grid": false}},
        "y": {"field": "tpr", "type": "quantitative", "scale": {"domain": [0, 1], "nice": false}, "axis": {"title": "True positive rate", "values": [0, 0.2, 0.4, 0.6, 0.8, 1], "format": "~g", "grid": false, "labelPadding": 11}},
        "order": {"field": "i", "type": "quantitative"},
        "color": {"field": "s", "type": "nominal", "scale": {"domain": ["early change, AUC = 0.56", "late change, AUC = 0.60"], "range": ["#0072BD", "#FF0000"]}, "legend": {"orient": "none", "legendX": 156, "legendY": 275, "title": null, "symbolType": "M-1,0H2.05", "symbolSize": 441, "labelOffset": 21, "rowPadding": 2}}
       }
      },
      {
       "mark": {"type": "line", "opacity": 0},
       "encoding": {
        "x": {"field": "fpr", "type": "quantitative", "scale": {"domain": [0, 1], "nice": false}, "axis": {"orient": "top", "title": null, "labels": false, "domain": false, "values": [0, 0.2, 0.4, 0.6, 0.8, 1], "grid": false}},
        "y": {"field": "tpr", "type": "quantitative", "scale": {"domain": [0, 1], "nice": false}, "axis": {"orient": "right", "title": "\u200b", "titleFontSize": 6, "titlePadding": 5, "labels": false, "domain": false, "values": [0, 0.2, 0.4, 0.6, 0.8, 1], "grid": false}},
        "order": {"field": "i", "type": "quantitative"},
        "detail": {"field": "s", "type": "nominal"}
       }
      }
     ],
     "resolve": {"axis": {"x": "independent", "y": "independent"}}
    }
   ]
  }
 ]
}
